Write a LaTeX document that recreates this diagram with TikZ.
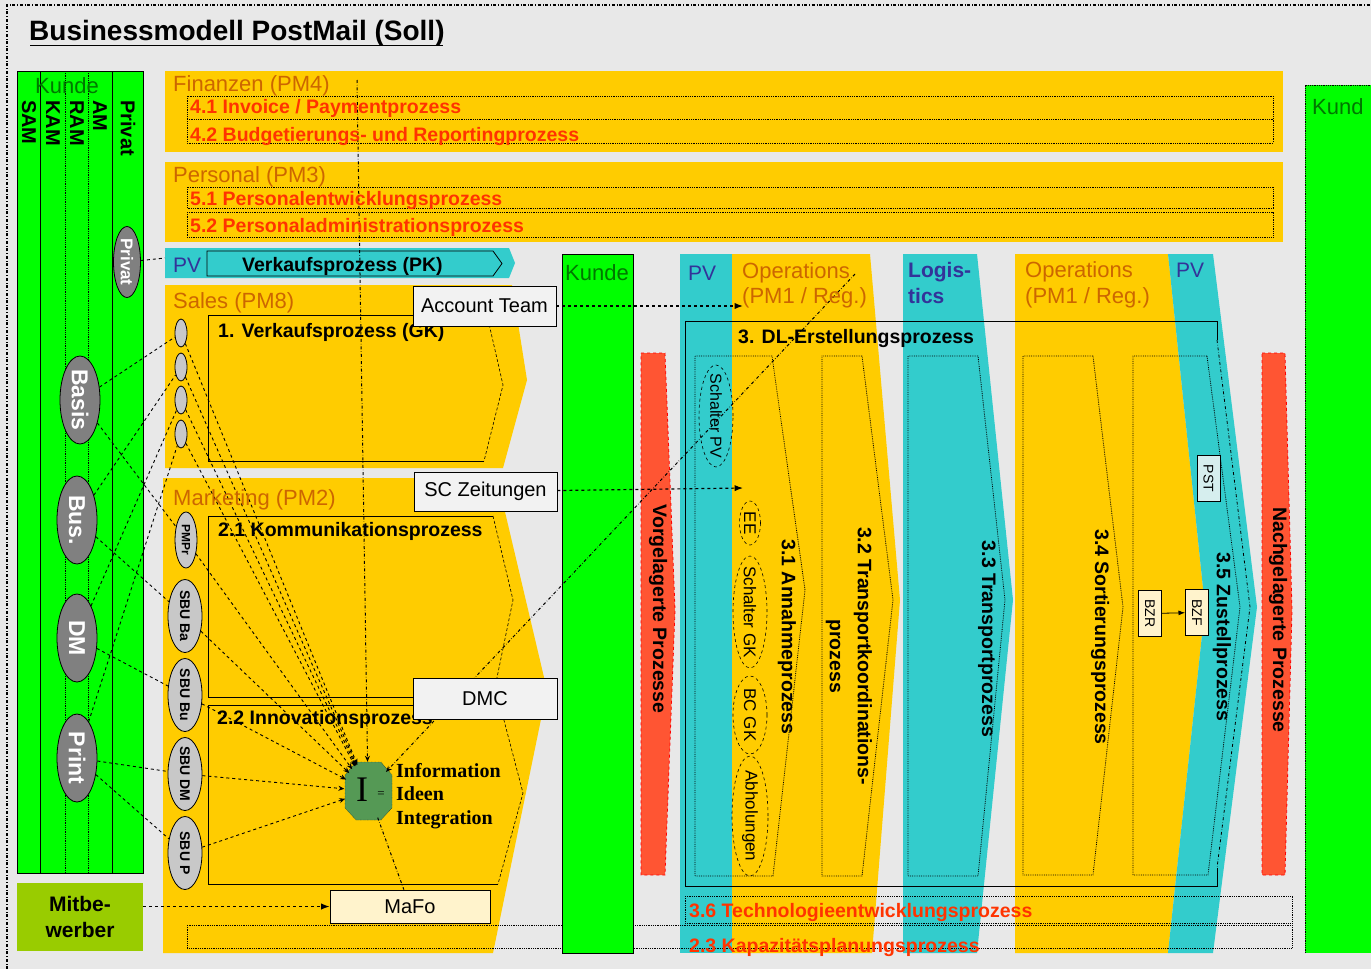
\documentclass[tikz,border=0pt]{standalone}
\usepackage{fontspec}
\setmainfont{Liberation Sans}
\newfontfamily\serifI{Liberation Serif}
\usetikzlibrary{arrows.meta,shapes.geometric}
\pgfdeclarelayer{bg}
\pgfdeclarelayer{lines}
\pgfsetlayers{bg,lines,main}
\definecolor{bgc}{HTML}{E8E8E8}
\definecolor{kgreen}{HTML}{00FF00}
\definecolor{yel}{HTML}{FFCC00}
\definecolor{cya}{HTML}{33CCCC}
\definecolor{redf}{HTML}{FF5533}
\definecolor{orat}{HTML}{CC6600}
\definecolor{redt}{HTML}{FF3300}
\definecolor{bluet}{HTML}{333399}
\definecolor{dgreen}{HTML}{007700}
\definecolor{olive}{HTML}{99CC00}
\definecolor{ellg}{HTML}{808080}
\definecolor{hatch}{HTML}{C8C8C8}
\definecolor{boxg}{HTML}{F2F2F2}
\definecolor{paley}{HTML}{FFF3CC}
\definecolor{palec}{HTML}{D6EEEE}
\definecolor{igreen}{HTML}{559955}
\tikzset{
  olab/.style={anchor=base west, inner sep=0, text=orat, font=\fontsize{22}{26}\selectfont},
  blab/.style={anchor=base west, inner sep=0, text=bluet, font=\fontsize{21}{25}\selectfont},
  bblab/.style={blab, font=\fontsize{21}{25}\selectfont\bfseries},
  glab/.style={anchor=base west, inner sep=0, text=dgreen, font=\fontsize{22}{26}\selectfont},
  ptxt/.style={anchor=base west, inner sep=0, font=\fontsize{19.5}{23}\selectfont\bfseries},
  rtxt/.style={ptxt, text=redt},
  vtxt/.style={inner sep=0, rotate=-90, font=\fontsize{19.5}{23}\selectfont\bfseries},
  kvt/.style={inner sep=0, rotate=-90, anchor=west, font=\fontsize{20}{24}\selectfont\bfseries},
  kell/.style={ellipse, draw, thick, fill=ellg, inner sep=0},
  kelt/.style={inner sep=0, rotate=-90, text=white, font=\fontsize{23}{27}\selectfont\bfseries},
  hell/.style={ellipse, draw, thick, fill=hatch, inner sep=0},
  helt/.style={inner sep=0, rotate=-90, font=\fontsize{14}{17}\selectfont\bfseries},
  oell/.style={ellipse, draw, dashed, semithick, inner sep=0},
  oelt/.style={inner sep=0, rotate=-90, font=\fontsize{17}{20}\selectfont},
  tbox/.style={draw, thick, fill=boxg, inner sep=0, font=\fontsize{20}{24}\selectfont},
  sbox/.style={draw, thick, inner sep=0, rotate=-90, font=\fontsize{14}{17}\selectfont, minimum width=46, minimum height=23},
  conn/.style={dashed, line width=0.9pt},
  dd/.style={dash dot, line width=1pt},
  dotl/.style={densely dotted, thick},
  endtip/.style={-{Stealth[length=6pt,width=5pt]}},
}
\begin{document}
\begin{tikzpicture}[x=1pt,y=-1pt]
\useasboundingbox (0,0) rectangle (1371,969);
\begin{pgfonlayer}{bg}
\fill[bgc] (0,0) rectangle (1371,969);
\draw[dash dot, line width=1.2pt] (7,969) -- (7,5) -- (1371,5);
\draw[thick] (30,45) -- (443,45);
% left Kunde
\fill[kgreen] (17,71) rectangle (143,873);
\draw[thick] (40,71) -- (40,873) (112,71) -- (112,873);
\draw[dotl] (65,71) -- (65,873) (88,71) -- (88,873);
\draw[thick] (17,71) rectangle (143,873);
% Finanzen / Personal
\fill[yel] (165,71) rectangle (1283,152);
\draw[dotl] (187,96) rectangle (1273,143) (187,119) -- (1273,119);
\fill[yel] (165,162) rectangle (1283,242);
\draw[dotl] (187,187) rectangle (1273,208) (187,212) rectangle (1273,237);
% PV strip
\fill[cya] (165,248) -- (509,248) -- (515,263) -- (509,278) -- (165,278) -- cycle;
\draw[thick] (207,251) -- (493,251) -- (502,263.5) -- (493,276) -- (207,276) -- cycle;
% Sales
\fill[yel] (165,285) -- (512,285) -- (527,380) -- (503,468) -- (165,468) -- cycle;
\draw[semithick] (487,315) -- (208,315) -- (208,461) -- (484,461);
\draw[semithick, densely dashed] (487,315) -- (503,385) -- (484,461);
% Marketing
\fill[yel] (163,478) -- (497,478) -- (547,690) -- (493,953) -- (163,953) -- cycle;
\draw[semithick] (493,516) -- (208,516) -- (208,697) -- (493,697);
\draw[semithick, densely dashed] (493,516) -- (513,600) -- (493,697);
\draw[semithick] (500,705) -- (208,705) -- (208,884) -- (498,884);
\draw[semithick, densely dashed] (500,705) -- (523,793) -- (498,884);
% centre columns
\fill[cya] (680,254) rectangle (732,953);
\fill[yel] (732,254) -- (870,254) -- (900,600) -- (872,953) -- (732,953) -- cycle;
\fill[cya] (903,254) -- (977,254) -- (1013,600) -- (977,953) -- (903,953) -- cycle;
\fill[yel] (1015,254) -- (1168,254) -- (1205,607) -- (1168,953) -- (1015,953) -- cycle;
\fill[cya] (1168,254) -- (1213,254) -- (1257,607) -- (1213,953) -- (1168,953) -- (1205,607) -- cycle;
\filldraw[fill=redf, draw=red, dashed, thick] (641,353) -- (665,353) -- (675,610) -- (665,875) -- (641,875) -- cycle;
\filldraw[fill=redf, draw=red, dashed, thick] (1262,353) -- (1285,353) -- (1292,610) -- (1285,875) -- (1262,875) -- cycle;
\fill[kgreen] (1305,85) rectangle (1371,953);
\draw[dotl] (1305,953) -- (1305,85) -- (1371,85);
% bottom rows
\draw[dotl] (187,925) rectangle (1292,948);
\draw[dotl] (685,896) rectangle (1292,923);
% middle Kunde
\filldraw[fill=kgreen, draw=black, thick] (562,254) rectangle (633,953);
% DL frame
\draw[thick] (1217,340) -- (1217,321) -- (685,321) -- (685,886) -- (1217,886) -- (1217,868);
\draw[dd, thick] (1217,340) -- (1250,607) -- (1217,868);
% dotted process outlines
\draw[dotl] (772,356) -- (695,356) -- (695,876) -- (773,876) -- (805,590) -- cycle;
\draw[dotl] (862,356) -- (822,356) -- (822,876) -- (862,876) -- (893,600) -- cycle;
\draw[dotl] (978,356) -- (908,356) -- (908,876) -- (978,876) -- (1005,600) -- cycle;
\draw[dotl] (1093,356) -- (1023,356) -- (1023,875) -- (1093,875) -- (1123,607) -- cycle;
\draw[dotl] (1207,356) -- (1133,356) -- (1133,875) -- (1208,875) -- (1240,607) -- cycle;
% I octagon
\filldraw[fill=igreen, draw=black, densely dotted] (345,775) -- (356,762) -- (381,762) -- (392,775) -- (392,808) -- (381,820) -- (356,820) -- (345,808) -- cycle;
\end{pgfonlayer}

% ---- texts
\node[anchor=base west, inner sep=0, font=\fontsize{28}{33}\selectfont\bfseries] (title) at (29,40) {Businessmodell PostMail (Soll)};
\node[glab] (kundeL) at (35,93) {Kunde};
\node[kvt] (sam) at (29,100) {SAM};
\node[kvt] (kam) at (53,100) {KAM};
\node[kvt] (ram) at (77,100) {RAM};
\node[kvt] (am) at (100,100) {AM};
\node[kvt] (priv) at (128,100) {Privat};

\node[kell, minimum width=27, minimum height=71] (privatE) at (127,262) {};
\node[kelt, font=\fontsize{17}{20}\selectfont\bfseries] (privatT) at (privatE) {Privat};
\node[kell, minimum width=40, minimum height=88] (basisE) at (80,400) {};
\node[kelt] (basisT) at (basisE) {Basis};
\node[kell, minimum width=40, minimum height=88] (busE) at (77,520) {};
\node[kelt] (busT) at (busE) {Bus.};
\node[kell, minimum width=40, minimum height=88] (dmE) at (77,638) {};
\node[kelt] (dmT) at (dmE) {DM};
\node[kell, minimum width=40, minimum height=88] (printE) at (77,758) {};
\node[kelt] (printT) at (printE) {Print};

\node[fill=olive, minimum width=126, minimum height=68, inner sep=0, align=center, font=\fontsize{21}{26}\selectfont\bfseries] (mitb) at (80,917) {Mitbe-\\werber};

\node[olab] (finL) at (173,91) {Finanzen (PM4)};
\node[rtxt] (p41) at (190,113) {4.1 Invoice / Paymentprozess};
\node[rtxt] (p42) at (190,141) {4.2 Budgetierungs- und Reportingprozess};
\node[olab] (pers) at (173,182) {Personal (PM3)};
\node[rtxt] (p51) at (190,205) {5.1 Personalentwicklungsprozess};
\node[rtxt] (p52) at (190,232) {5.2 Personaladministrationsprozess};
\node[blab] (pvA) at (173,272) {PV};
\node[ptxt] (vkpk) at (242,271) {Verkaufsprozess (PK)};
\node[olab] (sales) at (173,308) {Sales (PM8)};
\node[ptxt] (p1) at (218,337) {1. Verkaufsprozess (GK)};
\node[olab] (mkt) at (173,505) {Marketing (PM2)};
\node[ptxt] (p21) at (218,536) {2.1 Kommunikationsprozess};
\node[ptxt] (p22) at (217,724) {2.2 Innovationsprozess};
\node[glab] (kundeM) at (565,280) {Kunde};
\node[blab] (pvB) at (688,280) {PV};
\node[olab] (ops1a) at (742,278) {Operations};
\node[olab] (ops1b) at (742,303) {(PM1 / Reg.)};
\node[ptxt] (p3) at (738,343) {3. DL-Erstellungsprozess};
\node[bblab] (log1) at (908,277) {Logis-};
\node[bblab] (log2) at (908,303) {tics};
\node[olab] (ops2a) at (1025,277) {Operations};
\node[olab] (ops2b) at (1025,303) {(PM1 / Reg.)};
\node[blab] (pvC) at (1176,277) {PV};
\node[glab] (kundeR) at (1312,114) {Kund};
\node[rtxt] (p36) at (689,917) {3.6 Technologieentwicklungsprozess};
\node[rtxt] (p23) at (689,952) {2.3 Kapazitätsplanungsprozess};

\node[vtxt] (vorg) at (658,609) {Vorgelagerte Prozesse};
\node[vtxt] (nachg) at (1278,620) {Nachgelagerte Prozesse};
\node[vtxt] (p31) at (787,637) {3.1 Annahmeprozess};
\node[vtxt, align=center] (p32) at (849,656) {3.2 Transportkoordinations-\\[5pt]prozess};
\node[vtxt] (p33) at (987,639) {3.3 Transportprozess};
\node[vtxt] (p34) at (1100,637) {3.4 Sortierungsprozess};
\node[vtxt] (p35) at (1222,637) {3.5 Zustellprozess};

\node[oell, minimum width=34, minimum height=102] (spvE) at (716,416) {};
\node[oelt, font=\fontsize{16}{19}\selectfont] (spvT) at (spvE) {Schalter PV};
\node[oell, minimum width=21, minimum height=44] (eeE) at (750,523) {};
\node[oelt] (eeT) at (eeE) {EE};
\node[oell, minimum width=34, minimum height=112] (sgkE) at (750,612) {};
\node[oelt] (sgkT) at (sgkE) {Schalter GK};
\node[oell, minimum width=34, minimum height=78] (bcE) at (750,715) {};
\node[oelt] (bcT) at (bcE) {BC GK};
\node[oell, minimum width=36, minimum height=120] (abE) at (750,816) {};
\node[oelt] (abT) at (abE) {Abholungen};

\node[hell, minimum width=12, minimum height=28] (s1) at (181,333) {};
\node[hell, minimum width=12, minimum height=28] (s2) at (181,367) {};
\node[hell, minimum width=12, minimum height=28] (s3) at (181,400) {};
\node[hell, minimum width=12, minimum height=28] (s4) at (181,434) {};
\node[hell, minimum width=22, minimum height=56] (pmpr) at (186,540) {};
\node[helt, font=\fontsize{12}{14}\selectfont\bfseries] (pmprT) at (pmpr) {PMPr};
\node[hell, minimum width=34, minimum height=73] (sba) at (185,616) {};
\node[helt] (sbaT) at (sba) {SBU Ba};
\node[hell, minimum width=34, minimum height=73] (sbu) at (185,695) {};
\node[helt] (sbuT) at (sbu) {SBU Bu};
\node[hell, minimum width=34, minimum height=73] (sdm) at (185,774) {};
\node[helt] (sdmT) at (sdm) {SBU DM};
\node[hell, minimum width=34, minimum height=73] (sp) at (185,853) {};
\node[helt] (spT) at (sp) {SBU P};

\node[tbox, minimum width=143, minimum height=40] (acct) at (484.5,306) {Account Team};
\node[tbox, minimum width=143, minimum height=39] (scz) at (485.5,491.5) {SC Zeitungen};
\node[tbox, minimum width=144, minimum height=41] (dmc) at (485,698.5) {DMC};
\node[tbox, fill=paley, minimum width=160, minimum height=33] (mafo) at (410,906.5) {MaFo};
\node[sbox, fill=palec] (pst) at (1208.5,478.5) {PST};
\node[sbox, fill=paley] (bzr) at (1150,613.5) {BZR};
\node[sbox, fill=paley] (bzf) at (1197,612.5) {BZF};

\node[ellipse, minimum width=47, minimum height=58, inner sep=0] (I) at (368,791) {};
\node[inner sep=0, font=\serifI\fontsize{36}{40}\selectfont] (Ibig) at (362,790) {I};
\node[inner sep=0, font=\serifI\fontsize{13}{15}\selectfont] (Ieq) at (381,795) {=};
\node[anchor=base west, inner sep=0, font=\serifI\fontsize{20}{24}\selectfont\bfseries] (info1) at (396,777) {Information};
\node[anchor=base west, inner sep=0, font=\serifI\fontsize{20}{24}\selectfont\bfseries] (info2) at (396,800) {Ideen};
\node[anchor=base west, inner sep=0, font=\serifI\fontsize{20}{24}\selectfont\bfseries] (info3) at (396,824) {Integration};

\coordinate (finTop) at (357,80);
\coordinate (opsTop) at (855,274);
\coordinate (pvL) at (165,258);
\coordinate (opsAT) at (743,306);
\coordinate (opsSC) at (743,488);

\begin{pgfonlayer}{lines}
\draw[dd, endtip] (finTop) -- (I);
\draw[dd, endtip] (opsTop) -- (I);
\draw[dd] (I) -- (mafo);
\draw[conn] (privatE) -- (pvL);
\draw[conn] (basisE) -- (s1);
\draw[conn] (basisE) -- (pmpr);
\draw[conn] (busE) -- (s2);
\draw[conn] (busE) -- (sba);
\draw[conn] (dmE) -- (s3);
\draw[conn] (dmE) -- (sbu);
\draw[conn] (printE) -- (s4);
\draw[conn] (printE) -- (sdm);
\draw[conn] (printE) -- (sp);
\foreach \n in {s1,s2,s3,s4,pmpr,sba,sbu,sdm,sp} \draw[conn, endtip] (\n) -- (I);
\draw[conn, line width=1.2pt, -{Latex}] (acct) -- (opsAT);
\draw[conn, line width=1.2pt, -{Latex}] (scz) -- (opsSC);
\draw[conn, line width=1.2pt, -{Latex}] (mitb.east |- mafo.west) -- (mafo.west);
\draw[thick, -{Latex}] (bzr) -- (bzf);
\end{pgfonlayer}
\end{tikzpicture}
\end{document}
